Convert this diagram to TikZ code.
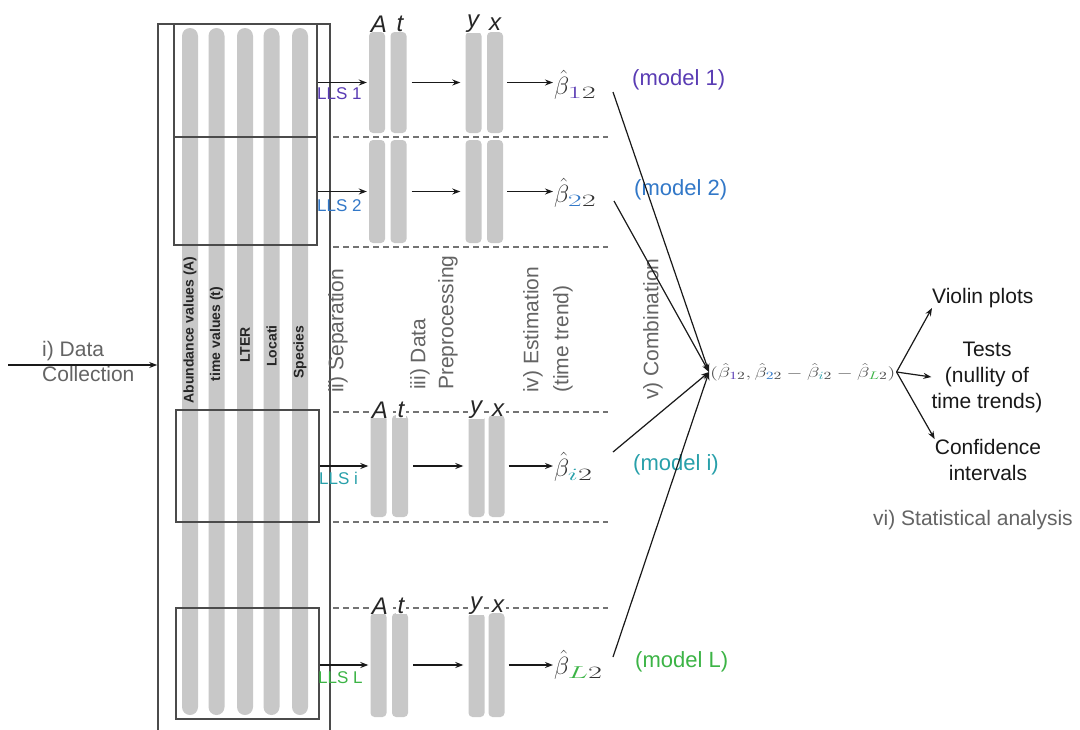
\documentclass[tikz,border=0pt]{standalone}
\usepackage{fontspec}
\usepackage{graphicx}
\setmainfont{Liberation Sans}
\usetikzlibrary{arrows.meta,calc}
\definecolor{cA}{RGB}{90,60,180}
\definecolor{cB}{RGB}{50,120,200}
\definecolor{cC}{RGB}{40,160,170}
\definecolor{cD}{RGB}{60,180,70}
\definecolor{stripe}{RGB}{200,200,200}
\definecolor{edge}{RGB}{75,75,75}
\definecolor{lbl}{RGB}{100,100,100}
\newcommand\bhatsub[1]{$\hat\beta_{\mbox{\scalebox{1.75}[1]{\fontsize{18}{18}\selectfont$#1$}}}$}
\tikzset{
  txt/.style={font=\fontsize{21}{25}\selectfont, text=lbl, inner sep=0pt},
  blk/.style={font=\fontsize{21}{26}\selectfont, text=black!90, inner sep=0pt},
  sect/.style={font=\fontsize{21}{28}\selectfont, text=lbl, inner sep=0pt, rotate=90, align=left, anchor=west},
  coltxt/.style={rotate=90, font=\bfseries\fontsize{14}{16}\selectfont, inner sep=0pt, text=black!85},
  frame/.style={draw=edge, line width=1.6pt, inner sep=0pt},
  dashln/.style={draw=black!55, line width=1.3pt, dash pattern=on 6pt off 4pt},
  col/.style={fill=stripe, rounded corners=4pt, minimum width=16pt, inner sep=0pt},
  lab/.style={font=\itshape\fontsize{24}{28}\selectfont, text=black!85, inner xsep=2pt, inner ysep=0pt, fill=white},
  arr/.style={-{Stealth[length=8pt,width=6pt]}, line width=1.2pt, black!90},
  lls/.style={font=\fontsize{17}{20}\selectfont, inner sep=0pt, anchor=west},
  model/.style={font=\fontsize{22}{26}\selectfont, inner sep=0pt, anchor=west},
  beta/.style={font=\fontsize{25}{28}\selectfont, text=black!80, inner sep=1pt, anchor=west},
}
\begin{document}
\begin{tikzpicture}[x=1pt,y=-1pt]
\clip (0,0) rectangle (1080,729);
\fill[white] (0,0) rectangle (1080,729);

% stripes of the data table
\foreach \cx in {190,216.5,245,271.5,300}{
  \fill[stripe, rounded corners=8pt] (\cx-8,28) rectangle (\cx+8,715);
}
\node[coltxt] (c1) at (190,330) {Abundance values (A)};
\node[coltxt] (c2) at (216.5,334) {time values (t)};
\node[coltxt] (c3) at (245,345) {LTER};
\node[coltxt] (c4) at (271.5,346) {Locati};
\node[coltxt] (c5) at (300,352) {Species};

% frames
\node[frame, minimum width=172pt, minimum height=740pt] (outer) at (244,394) {};
\node[frame, minimum width=143pt, minimum height=221pt] (ub) at (245.5,134.5) {};
\coordinate (dv) at (0,137);
\draw[edge, line width=1.6pt] (ub.west |- dv) -- (ub.east |- dv);
\node[frame, minimum width=143pt, minimum height=112pt] (ib) at (247.5,466) {};
\node[frame, minimum width=143pt, minimum height=111pt] (lb) at (247.5,663.5) {};

% dashed separators
\foreach \yy in {137,247,412,522,608}{
  \draw[dashln] (333,\yy) -- (608,\yy);
}

% columns block 1
\node[col, minimum height=101pt] (A1) at (377,82.5) {};
\node[col, minimum height=101pt] (t1) at (398.5,82.5) {};
\node[col, minimum height=101pt] (y1) at (473.5,82.5) {};
\node[col, minimum height=101pt] (x1) at (495,82.5) {};
% block 2
\node[col, minimum height=103pt] (A2) at (377,191.5) {};
\node[col, minimum height=103pt] (t2) at (398.5,191.5) {};
\node[col, minimum height=103pt] (y2) at (473.5,191.5) {};
\node[col, minimum height=103pt] (x2) at (495,191.5) {};
% block i
\node[col, minimum height=102pt] (Ai) at (378.5,466) {};
\node[col, minimum height=102pt] (ti) at (400,466) {};
\node[col, minimum height=102pt] (yi) at (476.5,466) {};
\node[col, minimum height=102pt] (xi) at (496.5,466) {};
% block L
\node[col, minimum height=104pt] (AL) at (378.5,665) {};
\node[col, minimum height=104pt] (tL) at (400,665) {};
\node[col, minimum height=104pt] (yL) at (476.5,665) {};
\node[col, minimum height=104pt] (xL) at (496.5,665) {};

% column labels
\node[lab] (la1) at (379,24) {A};
\node[lab] (lt1) at (400,24) {t};
\node[lab] (ly1) at (473,24) {y};
\node[lab] (lx1) at (495,24) {x};
\node[lab] (lai) at (380,410) {A};
\node[lab] (lti) at (401,410) {t};
\node[lab] (lyi) at (476,410) {y};
\node[lab] (lxi) at (498,410) {x};
\node[lab] (laL) at (380,606) {A};
\node[lab] (ltL) at (401,606) {t};
\node[lab] (lyL) at (476,606) {y};
\node[lab] (lxL) at (498,606) {x};

% betas
\node[beta] (b1) at (553,85) {\bhatsub{{\color{cA}1}2}};
\node[beta] (b2) at (553,193) {\bhatsub{{\color{cB}2}2}};
\node[beta] (bi) at (553,467) {\bhatsub{{\color{cC}i}2}};
\node[beta] (bL) at (553,665) {\bhatsub{{\color{cD}L}2}};

% LLS arrows and labels
\draw[arr, shorten >=2pt] (ub.east |- A1) -- (A1);
\draw[arr, shorten >=2pt] (ub.east |- A2) -- (A2);
\draw[arr, shorten >=2pt] (ib.east |- Ai) -- (Ai);
\draw[arr, shorten >=2pt] (lb.east |- AL) -- (AL);
\node[lls, text=cA] (lls1) at (317,94) {LLS 1};
\node[lls, text=cB] (lls2) at (317,206) {LLS 2};
\node[lls, text=cC] (llsi) at (319,478) {LLS i};
\node[lls, text=cD] (llsL) at (318,678) {LLS L};

% processing arrows
\foreach \r in {1,2,i,L}{
  \draw[arr, shorten <=5pt, shorten >=5pt] (t\r) -- (y\r);
  \draw[arr, shorten <=4pt] (x\r.east) -- (x\r.east -| b\r.west);
}

% model labels
\node[model, text=cA] (m1) at (632,80) {(model 1)};
\node[model, text=cB] (m2) at (634,190) {(model 2)};
\node[model, text=cC] (mi) at (633,465) {(model i)};
\node[model, text=cD] (mL) at (635,662) {(model L)};

% section labels
\node[txt, align=left, anchor=west] (dc) at (42,361) {\fontsize{21}{35}\selectfont i) Data\\Collection};
\coordinate (dcs) at (8,365);
\draw[arr] (dcs) -- (dcs -| outer.west);
\node[sect] (s2) at (338,393) {ii) Separation};
\node[sect] (s3) at (434,390) {iii) Data\\Preprocessing};
\node[sect, font=\fontsize{21}{30}\selectfont] (s4) at (548,393) {iv) Estimation\\(time trend)};
\node[sect] (s5) at (653,400) {v) Combination};

% combination
\node[anchor=west, inner sep=1pt, font=\fontsize{15}{18}\selectfont, text=black!70] (comb) at (709,372)
  {\scalebox{1.42}[1]{$(\hat\beta_{{\color{cA}1}2},\hat\beta_{{\color{cB}2}2}-\hat\beta_{{\color{cC}i}2}-\hat\beta_{{\color{cD}L}2})$}};
\coordinate (e1) at (613,92);
\coordinate (e2) at (614,201);
\coordinate (ei) at (613,452);
\coordinate (eL) at (613,657);
\foreach \r in {1,2,i,L}{
  \draw[arr] (e\r) -- (comb.west);
}

% statistical analysis
\node[blk, anchor=west] (violin) at (932,298) {Violin plots};
\node[blk, align=center] (tests) at (987,377) {Tests\\(nullity of\\time trends)};
\node[blk, align=center] (conf) at (988,460) {Confidence\\intervals};
\node[txt] (stat) at (973,520) {vi) Statistical analysis};
\draw[arr] (comb.east) -- (violin.south west);
\draw[arr] (comb.east) -- (tests.west);
\draw[arr] (comb.east) -- (conf.north west);
\end{tikzpicture}
\end{document}
